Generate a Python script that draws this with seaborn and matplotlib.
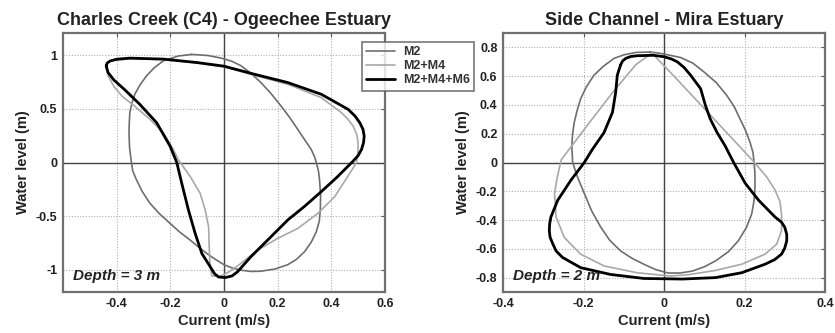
import numpy as np
import pandas as pd
import matplotlib
matplotlib.use("Agg")
import matplotlib.pyplot as plt
import seaborn as sns

# ---------------- data ----------------
# Panel 1: Charles Creek (C4) - Ogeechee Estuary
og_m2_x = [-0.12, -0.06, -0.01, 0.03, 0.0625, 0.10, 0.1375, 0.175, 0.2125, 0.245, 0.275, 0.30,
           0.325, 0.338, 0.344, 0.352, 0.356, 0.36, 0.359, 0.355, 0.344, 0.325, 0.30, 0.27,
           0.2375, 0.19, 0.1375, 0.10, 0.0625, 0.03, 0.0, -0.032, -0.064, -0.095, -0.126, -0.165,
           -0.201, -0.24, -0.276, -0.305, -0.326, -0.34, -0.345, -0.352, -0.354, -0.353, -0.351,
           -0.343, -0.3325, -0.313, -0.289, -0.26, -0.226, -0.17]
og_m2_y = [1.01, 1.0, 0.975, 0.945, 0.905, 0.835, 0.747, 0.645, 0.528, 0.42, 0.309, 0.215,
           0.122, 0.05, 0.0, -0.08, -0.16, -0.30, -0.44, -0.55, -0.647, -0.745, -0.834, -0.905,
           -0.955, -0.995, -1.016, -1.018, -1.006, -0.985, -0.955, -0.905, -0.85, -0.79, -0.725, -0.65,
           -0.569, -0.48, -0.381, -0.27, -0.1625, -0.08, 0.0, 0.14, 0.278, 0.375, 0.466,
           0.555, 0.6375, 0.725, 0.809, 0.885, 0.95, 0.995]

og_m24_x = [-0.44, -0.435, -0.42, -0.35, -0.23, -0.10, 0.0, 0.1125, 0.2375, 0.3625, 0.4375, 0.462,
            0.481, 0.495, 0.50, 0.499, 0.494, 0.469, 0.4125, 0.35, 0.275, 0.20, 0.125, 0.0625,
            0.02, -0.015, -0.045, -0.052, -0.055, -0.0575, -0.07, -0.089, -0.126, -0.17, -0.189,
            -0.226, -0.276, -0.33, -0.38, -0.41, -0.43]
og_m24_y = [0.89, 0.93, 0.95, 0.97, 0.962, 0.93, 0.893, 0.816, 0.731, 0.606, 0.466, 0.405,
            0.341, 0.26, 0.184, 0.09, 0.0, -0.10, -0.319, -0.475, -0.616, -0.709, -0.819, -0.944,
            -1.02, -1.065, -1.06, -0.97, -0.80, -0.60, -0.444, -0.2875, -0.131, 0.025, 0.122,
            0.278, 0.403, 0.52, 0.62, 0.71, 0.80]

og_m246_x = [-0.439, -0.435, -0.425, -0.40, -0.351, -0.226, -0.101, 0.0, 0.1125, 0.2375, 0.3625,
             0.4625, 0.488, 0.506, 0.518, 0.5225, 0.52, 0.5125, 0.50, 0.48, 0.42, 0.3625, 0.30,
             0.2375, 0.1625, 0.1, 0.05, 0.03, 0.005, -0.02, -0.035, -0.051, -0.0825, -0.1075,
             -0.1325, -0.1575, -0.176, -0.201, -0.251, -0.314, -0.37, -0.41, -0.432]
og_m246_y = [0.903, 0.93, 0.948, 0.965, 0.975, 0.966, 0.934, 0.90, 0.825, 0.747, 0.6375,
             0.497, 0.435, 0.372, 0.31, 0.247, 0.185, 0.122, 0.065, 0.01, -0.14, -0.272, -0.41,
             -0.5375, -0.725, -0.881, -1.022, -1.06, -1.075, -1.07, -1.04, -0.975, -0.85, -0.6625,
             -0.444, -0.194, 0.0, 0.153, 0.372, 0.544, 0.68, 0.77, 0.84]

# Panel 2: Side Channel - Mira Estuary
mi_m2_x = [-0.034, -0.008, 0.041, 0.072, 0.099, 0.13, 0.156, 0.175, 0.189, 0.203, 0.214, 0.221,
           0.224, 0.226, 0.226, 0.224, 0.218, 0.205, 0.185, 0.16, 0.128, 0.10, 0.07, 0.04, 0.01,
           -0.02, -0.05, -0.08, -0.108, -0.135, -0.157, -0.18, -0.198, -0.215, -0.227, -0.229,
           -0.227, -0.223, -0.216, -0.207, -0.193, -0.174, -0.15, -0.124, -0.10, -0.07]
mi_m2_y = [0.768, 0.758, 0.73, 0.69, 0.63, 0.555, 0.466, 0.385, 0.302, 0.22, 0.138, 0.07,
           0.0, -0.085, -0.169, -0.26, -0.356, -0.45, -0.543, -0.62, -0.684, -0.725, -0.755, -0.768,
           -0.768, -0.745, -0.707, -0.665, -0.614, -0.54, -0.45, -0.335, -0.215, -0.10, 0.0, 0.115,
           0.20, 0.279, 0.36, 0.443, 0.525, 0.607, 0.67, 0.724, 0.748, 0.765]

mi_m24_x = [-0.03, 0.03, 0.10, 0.17, 0.222, 0.255, 0.276, 0.288, 0.292, 0.292, 0.280, 0.251,
            0.193, 0.128, 0.06, 0.015, -0.067, -0.149, -0.207, -0.248, -0.268, -0.272, -0.265,
            -0.255, -0.19, -0.124, -0.07]
mi_m24_y = [0.76, 0.585, 0.375, 0.165, 0.009, -0.10, -0.192, -0.27, -0.356, -0.473, -0.567, -0.637,
            -0.707, -0.75, -0.78, -0.789, -0.766, -0.719, -0.637, -0.52, -0.379, -0.215, -0.10,
            0.02, 0.26, 0.50, 0.68]

mi_m246_x = [-0.108, -0.103, -0.095, -0.082, -0.067, -0.026, 0.0, 0.018, 0.033, 0.05, 0.066, 0.091,
             0.103, 0.115, 0.132, 0.152, 0.173, 0.202, 0.235, 0.276, 0.292, 0.300, 0.305, 0.305,
             0.300, 0.292, 0.275, 0.251, 0.193, 0.128, 0.045, -0.05, -0.133, -0.207, -0.252,
             -0.268, -0.276, -0.283, -0.285, -0.284, -0.281, -0.264, -0.231, -0.198, -0.178,
             -0.149, -0.128, -0.12, -0.116]
mi_m246_y = [0.677, 0.705, 0.724, 0.737, 0.742, 0.745, 0.735, 0.72, 0.70, 0.66, 0.607, 0.513,
             0.396, 0.302, 0.208, 0.115, 0.0, -0.145, -0.262, -0.379, -0.415, -0.45, -0.50, -0.543,
             -0.595, -0.637, -0.675, -0.707, -0.766, -0.80, -0.81, -0.806, -0.778, -0.731, -0.660,
             -0.615, -0.567, -0.52, -0.473, -0.425, -0.379, -0.262, -0.122, 0.0, 0.091,
             0.208, 0.349, 0.489, 0.607]

series_names = ["M2", "M2+M4", "M2+M4+M6"]
titles = ["Charles Creek (C4) - Ogeechee Estuary", "Side Channel - Mira Estuary"]
depth_labels = ["Depth = 3 m", "Depth = 2 m"]
og_xticks = [-0.4, -0.2, 0, 0.2, 0.4, 0.6]
og_xticklabels = ["-0.4", "-0.2", "0", "0.2", "0.4", "0.6"]
og_yticks = [-1, -0.5, 0, 0.5, 1]
og_yticklabels = ["-1", "-0.5", "0", "0.5", "1"]
mi_xticks = [-0.4, -0.2, 0, 0.2, 0.4]
mi_xticklabels = ["-0.4", "-0.2", "0", "0.2", "0.4"]
mi_yticks = [-0.8, -0.6, -0.4, -0.2, 0, 0.2, 0.4, 0.6, 0.8]
mi_yticklabels = ["-0.8", "-0.6", "-0.4", "-0.2", "0", "0.2", "0.4", "0.6", "0.8"]

# ---------------- plotting ----------------
sns.set_style("white")
plt.rcParams["font.family"] = ["Liberation Sans", "DejaVu Sans"]
plt.rcParams["font.weight"] = "bold"

fig = plt.figure(figsize=(8.35, 3.33), dpi=100)
ax1 = fig.add_axes([63 / 835, 1 - 292 / 333, (385 - 63) / 835, (292 - 33) / 333])
ax2 = fig.add_axes([503 / 835, 1 - 292 / 333, (825 - 503) / 835, (292 - 33) / 333])

styles = {
    "M2": dict(color="#6e6e6e", linewidth=1.2),
    "M2+M4": dict(color="#a8a8a8", linewidth=1.2),
    "M2+M4+M6": dict(color="#000000", linewidth=2.0),
}

def closed(v):
    return list(v) + [v[0]]

panels = [
    (ax1, [(og_m2_x, og_m2_y), (og_m24_x, og_m24_y), (og_m246_x, og_m246_y)],
     (-0.6, 0.6), (-1.21, 1.21), og_xticks, og_xticklabels, og_yticks, og_yticklabels),
    (ax2, [(mi_m2_x, mi_m2_y), (mi_m24_x, mi_m24_y), (mi_m246_x, mi_m246_y)],
     (-0.4, 0.4), (-0.9, 0.9), mi_xticks, mi_xticklabels, mi_yticks, mi_yticklabels),
]

handles = []
for i, (ax, curves, xl, yl, xt, xtl, yt, ytl) in enumerate(panels):
    ax.axhline(0, color="#444444", linewidth=1.0, zorder=1)
    ax.axvline(0, color="#444444", linewidth=1.0, zorder=1)
    for name, (cx, cy) in zip(series_names, curves):
        df = pd.DataFrame({"Current": closed(cx), "Level": closed(cy)})
        sns.lineplot(data=df, x="Current", y="Level", sort=False, estimator=None,
                     ax=ax, zorder=3, **styles[name])
        ax.lines[-1].set_solid_joinstyle("round")
        if i == 0:
            handles.append(ax.lines[-1])
    ax.set_xlim(*xl)
    ax.set_ylim(*yl)
    ax.set_xticks(xt)
    ax.set_xticklabels(xtl, fontsize=9, fontweight="bold")
    ax.set_yticks(yt)
    ax.set_yticklabels(ytl, fontsize=9, fontweight="bold")
    ax.grid(True, linestyle=(0, (1, 1.5)), color="#b0b0b0", linewidth=0.8)
    ax.tick_params(direction="in", length=3, width=0.8, top=True, right=True,
                   colors="#555555", labelcolor="#222222", pad=4)
    for sp in ax.spines.values():
        sp.set_color("#707070")
        sp.set_linewidth(1.6)
        sp.set_visible(True)
    ax.set_xlabel("Current (m/s)", fontsize=10.5, fontweight="bold", color="#222222", labelpad=3)
    ax.set_ylabel("Water level (m)", fontsize=10.5, fontweight="bold", color="#222222", labelpad=4)
    ax.set_title(titles[i], fontsize=13, fontweight="bold", color="#222222", pad=6)
    ax.text(0.03, 0.045, depth_labels[i], transform=ax.transAxes, fontsize=11,
            fontweight="bold", fontstyle="italic", color="#222222", zorder=5)

leg = fig.legend(handles, series_names, loc="upper left",
                 bbox_to_anchor=(362 / 835, 1 - 42 / 333), fontsize=9,
                 frameon=True, fancybox=False, handlelength=2.3, handletextpad=0.6,
                 borderpad=0.35, labelspacing=0.15, borderaxespad=0)
leg.get_frame().set_edgecolor("#555555")
leg.get_frame().set_linewidth(1.2)
for t in leg.get_texts():
    t.set_fontweight("bold")
    t.set_color("#333333")

fig.savefig("out.png", dpi=100)
